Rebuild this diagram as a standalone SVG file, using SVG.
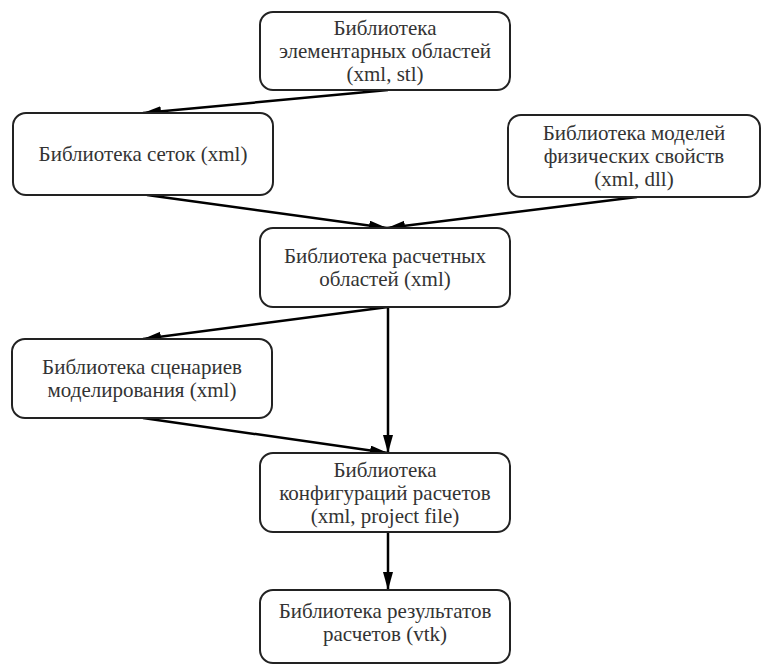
<svg xmlns="http://www.w3.org/2000/svg" width="762" height="665" viewBox="0 0 762 665">
<defs>
<marker id="ah" markerUnits="userSpaceOnUse" markerWidth="20" markerHeight="12" refX="18" refY="5" orient="auto">
<path d="M0,0 L18,5 L0,10 z" fill="#000"/>
</marker>
<style>
.box{fill:#fff;stroke:#222;stroke-width:2}
.t{font-size:21px;fill:#333;text-anchor:middle}
.e{stroke:#000;stroke-width:2.5;fill:none;marker-end:url(#ah)}
</style>
</defs>
<rect width="762" height="665" fill="#fff"/>
<g id="connectors">
<line class="e" x1="388" y1="90" x2="143" y2="113"/>
<line class="e" x1="147" y1="195" x2="387" y2="228"/>
<line class="e" x1="637" y1="197" x2="387" y2="228"/>
<line class="e" x1="388" y1="307" x2="143" y2="339"/>
<line class="e" x1="388" y1="307" x2="388" y2="453"/>
<line class="e" x1="143" y1="418" x2="388" y2="453"/>
<line class="e" x1="388" y1="532" x2="388" y2="590"/>
</g>
<g font-family="'Liberation Serif', 'DejaVu Serif', serif">
<g id="n1">
<rect class="box" x="260" y="12" width="250" height="78" rx="13"/>
<text class="t" x="385" y="35">Библиотека</text>
<text class="t" x="385" y="58">элементарных областей</text>
<text class="t" x="385" y="81">(xml, stl)</text>
</g>
<g id="n2">
<rect class="box" x="13" y="113" width="260" height="82" rx="13"/>
<text class="t" x="143" y="161">Библиотека сеток (xml)</text>
</g>
<g id="n3">
<rect class="box" x="508" y="115" width="252" height="82" rx="13"/>
<text class="t" x="634" y="140">Библиотека моделей</text>
<text class="t" x="634" y="163">физических свойств</text>
<text class="t" x="634" y="186">(xml, dll)</text>
</g>
<g id="n4">
<rect class="box" x="260" y="228" width="250" height="79" rx="13"/>
<text class="t" x="385" y="263">Библиотека расчетных</text>
<text class="t" x="385" y="286">областей (xml)</text>
</g>
<g id="n5">
<rect class="box" x="12" y="339" width="260" height="79" rx="13"/>
<text class="t" x="142" y="374">Библиотека сценариев</text>
<text class="t" x="142" y="397">моделирования (xml)</text>
</g>
<g id="n6">
<rect class="box" x="260" y="453" width="250" height="79" rx="13"/>
<text class="t" x="385" y="477">Библиотека</text>
<text class="t" x="385" y="500">конфигураций расчетов</text>
<text class="t" x="385" y="523">(xml, project file)</text>
</g>
<g id="n7">
<rect class="box" x="260" y="590" width="250" height="73" rx="13"/>
<text class="t" x="385" y="618">Библиотека результатов</text>
<text class="t" x="385" y="641">расчетов (vtk)</text>
</g>
</g>
</svg>
